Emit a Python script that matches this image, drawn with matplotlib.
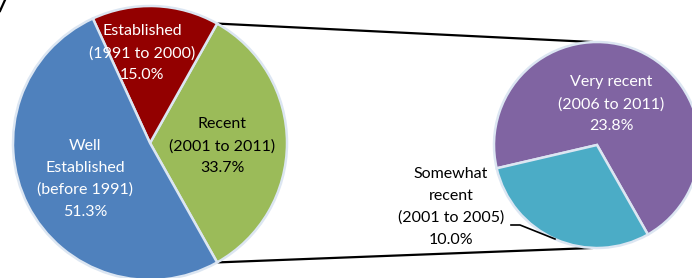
import matplotlib

matplotlib.use("Agg")
import matplotlib.pyplot as plt
import numpy as np

# main pie
main_labels = ["Recent\n(2001 to 2011)", "Established\n(1991 to 2000)", "Well\nEstablished\n(before 1991)"]
main_values = [33.7, 15.0, 51.3]
main_colors = ["#9bbb59", "#930000", "#4f81bd"]

# split of "Recent"
sub_labels = ["Very recent\n(2006 to 2011)", "Somewhat\nrecent\n(2001 to 2005)"]
sub_values = [23.8, 10.0]
sub_colors = ["#8064a2", "#4bacc6"]

W, H = 692, 278
fig = plt.figure(figsize=(W / 100, H / 100), dpi=100)
ax = fig.add_axes([0, 0, 1, 1])

edge = dict(edgecolor="#dce6f2", linewidth=1.8)
font = ["Lato", "DejaVu Sans"]

# left pie, "Recent" slice centred on the right side
c1, r1 = (150, 135), 137
start1 = -main_values[0] / 100 * 360 / 2
ax.pie(main_values, colors=main_colors, startangle=start1, counterclock=True,
       center=c1, radius=r1, wedgeprops=edge, frame=True)

# right pie
c2, r2 = (597, 133), 103
ax.pie(sub_values, colors=sub_colors, startangle=-60.4, counterclock=True,
       center=c2, radius=r2, wedgeprops=edge, frame=True)
ax.set_xlim(0, W)
ax.set_ylim(0, H)
ax.set_aspect("equal")
ax.axis("off")

# connector lines
a = np.deg2rad(-start1)
ax.plot([c1[0] + r1 * np.cos(a), c2[0] - 5], [c1[1] + r1 * np.sin(a), c2[1] + r2],
        color="black", lw=1.6, zorder=0)
ax.plot([c1[0] + r1 * np.cos(a), c2[0] - 5], [c1[1] - r1 * np.sin(a), c2[1] - r2],
        color="black", lw=1.6, zorder=0)
# bit of a border poking in at the top-left corner
ax.plot([0, 5], [H - 11, H], color="black", lw=1.6)

fs = 11.5
ls = 1.68
ax.text(142, H - 53, main_labels[1] + "\n%.1f%%" % main_values[1], color="white",
        ha="center", va="center", fontsize=fs, family=font, linespacing=ls)
ax.text(222, H - 146, main_labels[0] + "\n%.1f%%" % main_values[0], color="black",
        ha="center", va="center", fontsize=fs, family=font, linespacing=ls)
ax.text(85, H - 179, main_labels[2] + "\n%.1f%%" % main_values[2], color="white",
        ha="center", va="center", fontsize=fs, family=font, linespacing=ls)
ax.text(611, H - 104, sub_labels[0] + "\n%.1f%%" % sub_values[0], color="white",
        ha="center", va="center", fontsize=fs, family=font, linespacing=ls)
ax.text(451, H - 207, sub_labels[1] + "\n%.1f%%" % sub_values[1], color="black",
        ha="center", va="center", fontsize=fs, family=font, linespacing=ls)
# leader line for the small slice
ax.plot([511, 520, 555], [H - 225, H - 225, H - 239], color="black", lw=1.2)

fig.savefig("out.png", dpi=100)
